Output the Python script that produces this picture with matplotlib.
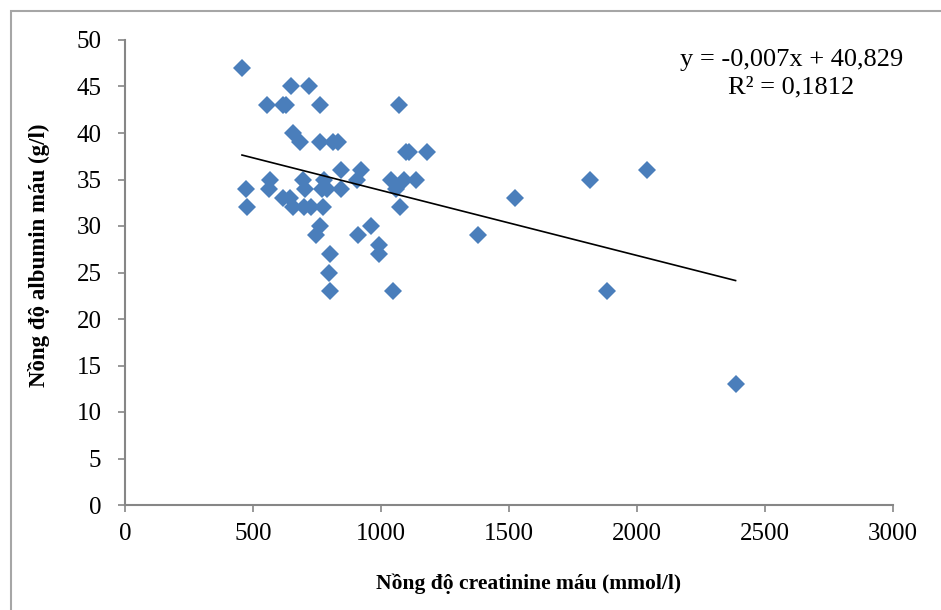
import numpy as np
import matplotlib.pyplot as plt
from matplotlib.patches import Rectangle

# creatinine (mmol/l) vs albumin (g/l)
creatinine = [457, 648, 717, 554, 617, 630, 760, 1071, 658, 682, 760, 811, 831,
              1097, 1110, 1178, 844, 922, 2039, 568, 695, 779, 906, 1039, 1091,
              1136, 1815, 474, 562, 705, 768, 790, 844, 1058, 617, 643, 1525,
              478, 656, 701, 727, 773, 1075, 760, 961, 747, 912, 1377, 993, 799,
              993, 795, 799, 1045, 1883, 2385]
albumin = [47, 45, 45, 43, 43, 43, 43, 43, 40, 39, 39, 39, 39,
           38, 38, 38, 36, 36, 36, 35, 35, 35, 35, 35, 35,
           35, 35, 34, 34, 34, 34, 34, 34, 34, 33, 33, 33,
           32, 32, 32, 32, 32, 32, 30, 30, 29, 29, 29, 28, 27,
           27, 25, 23, 23, 23, 13]

slope = -0.007
intercept = 40.829
eq_text = "y = -0,007x + 40,829"
r2_text = "R² = 0,1812"

x_ticks = [0, 500, 1000, 1500, 2000, 2500, 3000]
y_ticks = [0, 5, 10, 15, 20, 25, 30, 35, 40, 45, 50]

plt.rcParams['font.family'] = ['Liberation Serif', 'DejaVu Serif']

fig = plt.figure(figsize=(9.41, 6.10), dpi=100)
ax = fig.add_axes([125/941, 105/610, 768/941, 465/610])

# outer chart frame, runs off the right and bottom edges
fig.patches.append(Rectangle((10.5/941, -0.2), 1.5, 1.2 - 10.5/610, transform=fig.transFigure,
                             fill=False, edgecolor='#a6a6a6', linewidth=1.5))

ax.plot(creatinine, albumin, linestyle='none', marker='D', markersize=9.6,
        color='#4a7ebb', markeredgewidth=0)

xs = np.array([min(creatinine), max(creatinine)])
ax.plot(xs, slope * xs + intercept, color='black', linewidth=1.2)

ax.set_xlim(0, 3000)
ax.set_ylim(0, 50)
ax.set_xticks(x_ticks)
ax.set_yticks(y_ticks)
ax.tick_params(labelsize=18, direction='out', length=5, width=1.2, color='#868686')
ax.tick_params(axis='x', pad=8)
ax.tick_params(axis='y', pad=12)

for s in ['top', 'right']:
    ax.spines[s].set_visible(False)
for s in ['left', 'bottom']:
    ax.spines[s].set_color('#868686')
    ax.spines[s].set_linewidth(1.5)

ax.set_xlabel("Nồng độ creatinine máu (mmol/l)", fontsize=15.5, fontweight='bold')
ax.set_ylabel("Nồng độ albumin máu (g/l)", fontsize=16.5, fontweight='bold')
ax.xaxis.set_label_coords(0.525, -0.148)
ax.yaxis.set_label_coords(-0.098, 0.538)

ax.text(0.868, 0.957, eq_text, transform=ax.transAxes, ha='center', va='center', fontsize=19)
ax.text(0.868, 0.897, r2_text, transform=ax.transAxes, ha='center', va='center', fontsize=19)

fig.savefig("out.png", dpi=100)
